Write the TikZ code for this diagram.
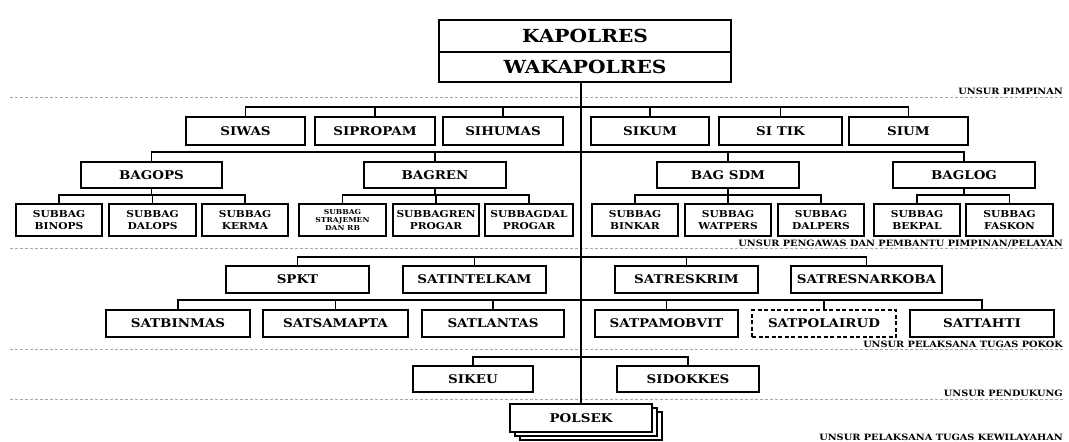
\documentclass[tikz,border=0pt]{standalone}
\usepackage{fontspec}
\setmainfont{DejaVu Serif}[FakeStretch=1.12]
\newcommand\bnode[7][]{\node[bx,#1,minimum width={(#4-#3)*1pt},minimum height={(#6-#5)*1pt}] (#2) at ({(#3+#4)/2},{(#5+#6)/2}) {#7};}
\begin{document}
\begin{tikzpicture}[x=1pt,y=-1pt,
  bx/.style={draw, line width=1.6pt, inner sep=0pt, align=center, fill=white},
  fTop/.style={font=\bfseries\fontsize{18}{20}\selectfont},
  fA/.style={font=\bfseries\fontsize{12}{13}\selectfont},
  fS/.style={font=\bfseries\fontsize{9.5}{11.5}\selectfont},
  fT/.style={font=\bfseries\fontsize{6.8}{7.6}\selectfont},
  fL/.style={font=\bfseries\fontsize{8.7}{8.7}\selectfont},
  conn/.style={line width=1.3pt},
  sep/.style={draw=gray!70, line width=0.7pt, dash pattern=on 3pt off 2pt},
  dashbox/.style={dash pattern=on 4pt off 2.5pt}
]
\useasboundingbox (0,0) rectangle (1069,442);
% separators
\draw[sep] (10,97) -- (1065,97);
\draw[sep] (10,248) -- (1065,248);
\draw[sep] (10,349) -- (1065,349);
\draw[sep] (10,399) -- (1065,399);
\node[fL, anchor=base east, inner sep=0pt] (l1) at (1063,94) {UNSUR PIMPINAN};
\node[fL, anchor=base east, inner sep=0pt] (l2) at (1063,246) {UNSUR PENGAWAS DAN PEMBANTU PIMPINAN/PELAYAN};
\node[fL, anchor=base east, inner sep=0pt] (l3) at (1063,347) {UNSUR PELAKSANA TUGAS POKOK};
\node[fL, anchor=base east, inner sep=0pt] (l4) at (1063,396) {UNSUR PENDUKUNG};
\node[fL, anchor=base east, inner sep=0pt] (l5) at (1063,440) {UNSUR PELAKSANA TUGAS KEWILAYAHAN};
% top
\bnode[fTop]{kap}{439}{731}{20}{52}{KAPOLRES}
\bnode[fTop]{wak}{439}{731}{52}{82}{WAKAPOLRES}
% row 1
\bnode[fA]{siwas}{186}{305}{117}{145}{SIWAS}
\bnode[fA]{sipropam}{315}{435}{117}{145}{SIPROPAM}
\bnode[fA]{sihumas}{443}{563}{117}{145}{SIHUMAS}
\bnode[fA]{sikum}{591}{709}{117}{145}{SIKUM}
\bnode[fA]{sitik}{719}{842}{117}{145}{SI TIK}
\bnode[fA]{sium}{849}{968}{117}{145}{SIUM}
% row 2
\bnode[fA]{bagops}{81}{222}{162}{188}{BAGOPS}
\bnode[fA]{bagren}{364}{506}{162}{188}{BAGREN}
\bnode[fA]{bagsdm}{657}{799}{162}{188}{BAG SDM}
\bnode[fA]{baglog}{893}{1035}{162}{188}{BAGLOG}
% row 3
\bnode[fS]{binops}{16}{102}{204}{236}{SUBBAG\\BINOPS}
\bnode[fS]{dalops}{109}{196}{204}{236}{SUBBAG\\DALOPS}
\bnode[fS]{kerma}{202}{288}{204}{236}{SUBBAG\\KERMA}
\bnode[fT]{straj}{299}{386}{204}{236}{SUBBAG\\STRAJEMEN\\DAN RB}
\bnode[fS]{subbagren}{393}{479}{204}{236}{SUBBAGREN\\PROGAR}
\bnode[fS]{subbagdal}{485}{573}{204}{236}{SUBBAGDAL\\PROGAR}
\bnode[fS]{binkar}{592}{678}{204}{236}{SUBBAG\\BINKAR}
\bnode[fS]{watpers}{685}{771}{204}{236}{SUBBAG\\WATPERS}
\bnode[fS]{dalpers}{778}{864}{204}{236}{SUBBAG\\DALPERS}
\bnode[fS]{bekpal}{874}{960}{204}{236}{SUBBAG\\BEKPAL}
\bnode[fS]{faskon}{966}{1053}{204}{236}{SUBBAG\\FASKON}
% row 4
\bnode[fA]{spkt}{226}{369}{266}{293}{SPKT}
\bnode[fA]{satintelkam}{403}{546}{266}{293}{SATINTELKAM}
\bnode[fA]{satreskrim}{615}{758}{266}{293}{SATRESKRIM}
\bnode[fA]{satresnarkoba}{791}{942}{266}{293}{SATRESNARKOBA}
% row 5
\bnode[fA]{satbinmas}{106}{250}{310}{337}{SATBINMAS}
\bnode[fA]{satsamapta}{263}{408}{310}{337}{SATSAMAPTA}
\bnode[fA]{satlantas}{422}{564}{310}{337}{SATLANTAS}
\bnode[fA]{satpamobvit}{595}{738}{310}{337}{SATPAMOBVIT}
\bnode[fA,dashbox]{satpolairud}{752}{896}{310}{337}{SATPOLAIRUD}
\bnode[fA]{sattahti}{910}{1054}{310}{337}{SATTAHTI}
% row 6
\bnode[fA]{sikeu}{413}{533}{366}{392}{SIKEU}
\bnode[fA]{sidokkes}{617}{759}{366}{392}{SIDOKKES}
% polsek stack
\bnode{polsekc}{520}{662}{412}{440}{}
\bnode{polsekb}{515}{657}{408}{436}{}
\bnode[fA]{polsek}{510}{652}{404}{432}{POLSEK}
% connectors
\coordinate (b1) at (0,107);
\coordinate (b2) at (0,152);
\coordinate (b3) at (0,195);
\coordinate (b4) at (0,257);
\coordinate (b5) at (0,300);
\coordinate (b6) at (0,357);
\draw[conn] (wak.south -| polsek.north) -- (polsek.north);
\draw[conn] (siwas.north) -- (siwas.north |- b1) -- (sium.north |- b1) -- (sium.north);
\foreach \n in {sipropam,sihumas,sikum,sitik} \draw[conn] (\n.north) -- (\n.north |- b1);
\draw[conn] (bagops.north) -- (bagops.north |- b2) -- (baglog.north |- b2) -- (baglog.north);
\foreach \n in {bagren,bagsdm} \draw[conn] (\n.north) -- (\n.north |- b2);
% subbag groups
\draw[conn] (bagops.south) -- (bagops.south |- b3);
\draw[conn] (binops.north) -- (binops.north |- b3) -- (kerma.north |- b3) -- (kerma.north);
\draw[conn] (dalops.north) -- (dalops.north |- b3);
\draw[conn] (bagren.south) -- (bagren.south |- b3);
\draw[conn] (straj.north) -- (straj.north |- b3) -- (subbagdal.north |- b3) -- (subbagdal.north);
\draw[conn] (subbagren.north) -- (subbagren.north |- b3);
\draw[conn] (bagsdm.south) -- (bagsdm.south |- b3);
\draw[conn] (binkar.north) -- (binkar.north |- b3) -- (dalpers.north |- b3) -- (dalpers.north);
\draw[conn] (watpers.north) -- (watpers.north |- b3);
\draw[conn] (baglog.south) -- (baglog.south |- b3);
\draw[conn] (bekpal.north) -- (bekpal.north |- b3) -- (faskon.north |- b3) -- (faskon.north);
% row 4
\draw[conn] (spkt.north) -- (spkt.north |- b4) -- (satresnarkoba.north |- b4) -- (satresnarkoba.north);
\foreach \n in {satintelkam,satreskrim} \draw[conn] (\n.north) -- (\n.north |- b4);
% row 5
\draw[conn] (satbinmas.north) -- (satbinmas.north |- b5) -- (sattahti.north |- b5) -- (sattahti.north);
\foreach \n in {satsamapta,satlantas,satpamobvit,satpolairud} \draw[conn] (\n.north) -- (\n.north |- b5);
% row 6
\draw[conn] (sikeu.north) -- (sikeu.north |- b6) -- (sidokkes.north |- b6) -- (sidokkes.north);
\end{tikzpicture}
\end{document}
